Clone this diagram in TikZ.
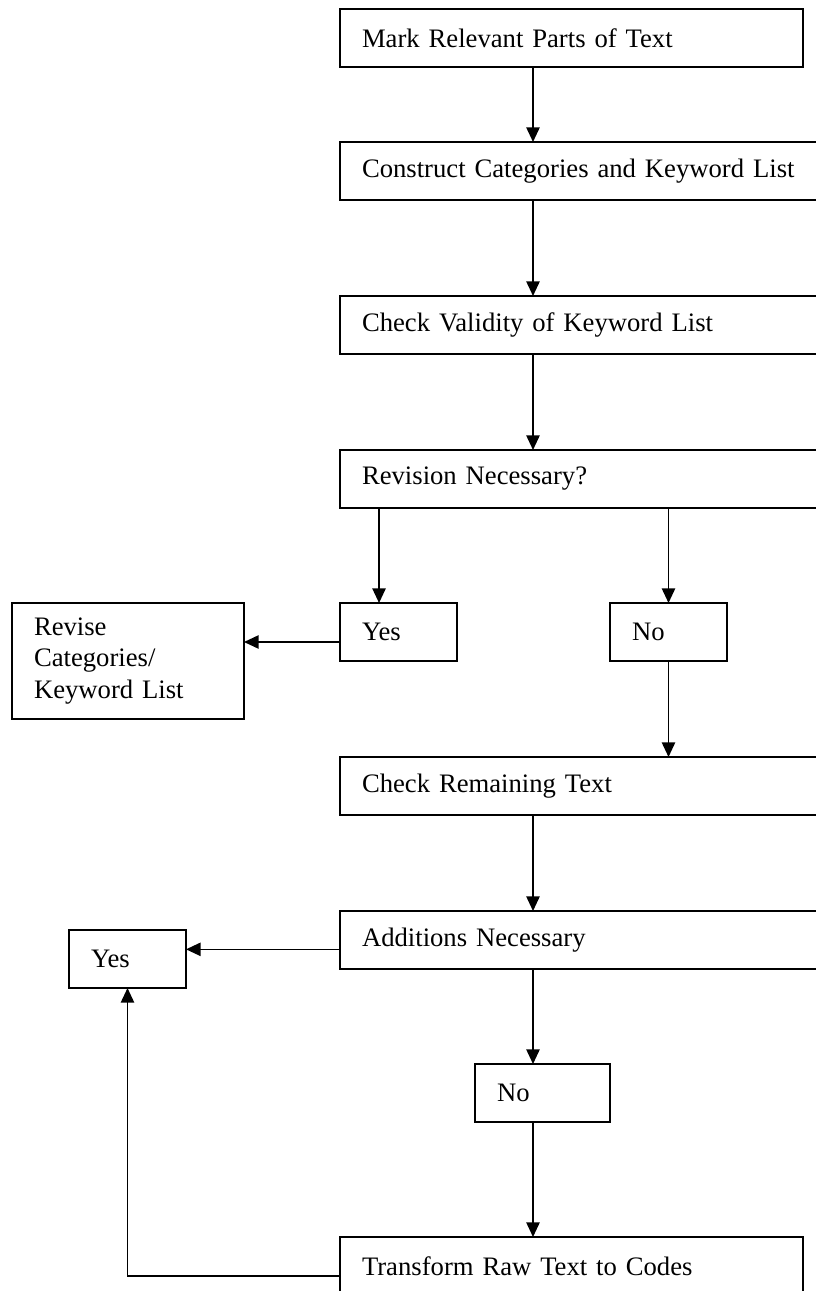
\documentclass[tikz,border=0pt]{standalone}
\usepackage{fontspec}
\setmainfont{Liberation Serif}
\usetikzlibrary{positioning,arrows.meta}

\begin{document}
\begin{tikzpicture}[
  box/.style={draw, rectangle, line width=1.2pt, outer sep=0pt, inner xsep=16.5pt, inner ysep=0pt,
    minimum height=43.5pt, text width=#1, align=left, font=\fontsize{20}{23.6}\selectfont},
  arr/.style={-{Triangle[length=11pt,width=10pt]}, line width=1.2pt}
]
  \useasboundingbox (0,0) rectangle (612pt,-968.25pt);
  \clip (0,0) rectangle (612pt,-968.25pt);

  % main column
  \node[box=314.25pt, anchor=north west] (mark) at (255pt,-6.75pt) {Mark Relevant Parts of Text};
  \node[box=372pt, below=56.25pt of mark.south west, anchor=north west] (construct) {Construct Categories and Keyword List};
  \node[box=372pt, below=72pt of construct.south west, anchor=north west] (validity) {Check Validity of Keyword List};
  \node[box=372pt, below=72pt of validity.south west, anchor=north west] (revision) {Revision Necessary?};

  % first decision
  \node[box=54.75pt, below=71.25pt of revision.south west, anchor=north west] (yes1) {Yes};
  \node[box=54.75pt, right=114.75pt of yes1] (no1) {No};
  \node[box=141pt, minimum height=87pt, left=72pt of yes1.north west, anchor=north east] (revise) {Revise\\Categories/\\Keyword List};

  \node[box=372pt, below=72pt of yes1.south west, anchor=north west] (remaining) {Check Remaining Text};
  \node[box=372pt, below=72pt of remaining.south west, anchor=north west] (additions) {Additions Necessary};

  % second decision
  \node[box=54.75pt, left=115.5pt of additions.north west, anchor=north east, yshift=-14.25pt] (yes2) {Yes};
  \node[box=68.25pt, below=71.25pt of additions.south west, anchor=north west, xshift=101.25pt] (no2) {No};
  \node[box=314.25pt, below=86.25pt of no2.south west, anchor=north west, xshift=-101.25pt] (transform) {Transform Raw Text to Codes};

  \coordinate (spine) at (399.75pt,0);
  \coordinate (yes1in) at ([xshift=-14.6pt]yes1.north);

  \draw[arr] (mark.south -| spine) -- (construct.north -| spine);
  \draw[arr] (construct.south -| spine) -- (validity.north -| spine);
  \draw[arr] (validity.south -| spine) -- (revision.north -| spine);
  \draw[arr] (revision.south -| yes1in) -- (yes1in);
  \draw[arr] (revision.south -| no1.north) -- (no1.north);
  \draw[arr] ([yshift=-7.5pt]yes1.west) -- ([yshift=-7.5pt]yes1.west -| revise.east);
  \draw[arr] (no1.south) -- (no1.south |- remaining.north);
  \draw[arr] (remaining.south -| spine) -- (additions.north -| spine);
  \draw[arr] ([yshift=-7pt]additions.west) -- ([yshift=-7pt]additions.west -| yes2.east);
  \draw[arr] (additions.south -| spine) -- (no2.north -| spine);
  \draw[arr] (no2.south -| spine) -- (transform.north -| spine);
  \draw[arr] ([yshift=-7.5pt]transform.west) -| (yes2.south);
\end{tikzpicture}
\end{document}
